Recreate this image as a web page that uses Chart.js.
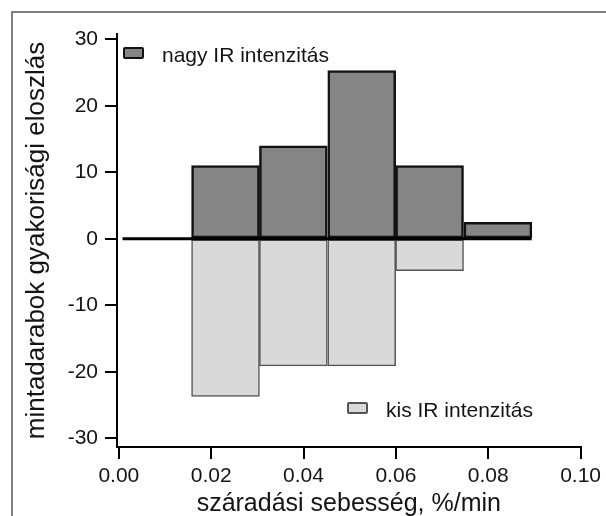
<!DOCTYPE html>
<html>
<head>
<meta charset="utf-8">
<script src="https://cdn.jsdelivr.net/npm/chart.js@4/dist/chart.umd.min.js"></script>
<style>
  html, body { margin: 0; padding: 0; background: #fff; }
  #wrap { position: relative; width: 606px; height: 516px; overflow: hidden; }
  #frame { position: absolute; left: 11px; top: 11px; width: 620px; height: 540px;
           border-left: 2px solid #808080; border-top: 2px solid #808080; }
  .leg { position: absolute; font-family: "Liberation Sans", Arial, sans-serif; font-size: 21px;
         color: #141414; white-space: nowrap; line-height: 21px; }
  .leg i { position: absolute; left: 0; top: 3px; width: 17px; height: 8px; border-radius: 2px; }
  .leg span { position: absolute; left: 39px; top: 0; }
</style>
</head>
<body>
<div id="wrap">
  <canvas id="chart" width="606" height="516"></canvas>
  <div id="frame"></div>
  <div class="leg" style="left:123px; top:44px;">
    <i style="background:#858585; border:2px solid #111;"></i><span>nagy IR intenzitás</span>
  </div>
  <div class="leg" style="left:347px; top:399px;">
    <i style="background:#d9d9d9; border:2px solid #555;"></i><span>kis IR intenzitás</span>
  </div>
</div>
<script>
document.addEventListener('DOMContentLoaded', function() {
    // bin centres (drying rate, %/min)
    const binCenters = [0.0231, 0.0378, 0.0526, 0.0673, 0.0821];
    // high IR intensity (upwards) and low IR intensity (downwards)
    const highIR = [11, 14, 25.3, 11, 2.5];
    const lowIR = [-23.7, -19.1, -19.1, -4.8, 0];
    // horizontal zero line span
    const baselineX = [0.0008, 0.0894];
    const yTicks = [-30, -20, -10, 0, 10, 20, 30];
    const xTicks = [0, 0.02, 0.04, 0.06, 0.08, 0.10];

    const font = '"Liberation Sans", Arial, sans-serif';

    const ctx = document.getElementById('chart').getContext('2d');
    new Chart(ctx, {
        type: 'bar',
        data: {
            datasets: [
                {
                    type: 'line',
                    data: baselineX.map(x => ({ x: x, y: 0 })),
                    borderColor: '#000',
                    borderWidth: 3,
                    pointRadius: 0
                },
                {
                    label: 'nagy IR intenzitás',
                    data: binCenters.map((x, i) => ({ x: x, y: highIR[i] })),
                    backgroundColor: '#858585',
                    borderColor: '#111',
                    borderWidth: 2.5,
                    borderSkipped: false,
                    grouped: false,
                    barPercentage: 1,
                    categoryPercentage: 1
                },
                {
                    label: 'kis IR intenzitás',
                    data: binCenters.map((x, i) => ({ x: x, y: lowIR[i] })),
                    backgroundColor: '#d9d9d9',
                    borderColor: '#555',
                    borderWidth: 1.5,
                    borderSkipped: false,
                    grouped: false,
                    barPercentage: 1,
                    categoryPercentage: 1
                }
            ]
        },
        options: {
            responsive: false,
            animation: false,
            layout: { padding: { left: 0, right: 24, top: 34, bottom: 0 } },
            plugins: {
                legend: { display: false },
                tooltip: { enabled: false }
            },
            scales: {
                x: {
                    type: 'linear',
                    offset: false,
                    min: -0.0004,
                    max: 0.10,
                    afterBuildTicks: s => { s.ticks = xTicks.map(v => ({ value: v })); },
                    afterFit: s => { s.height = 69; },
                    grid: { offset: false, drawOnChartArea: false, drawTicks: true, tickLength: 12, color: '#000', lineWidth: 2 },
                    border: { display: true, color: '#000', width: 2 },
                    ticks: {
                        padding: 5,
                        color: '#141414',
                        font: { family: font, size: 21 },
                        maxRotation: 0,
                        callback: v => v.toFixed(2)
                    },
                    title: {
                        display: true,
                        text: 'száradási sebesség, %/min',
                        color: '#141414',
                        font: { family: font, size: 25, lineHeight: 1 },
                        padding: { top: 0, bottom: -1 }
                    }
                },
                y: {
                    min: -31.3,
                    max: 30.8,
                    afterBuildTicks: s => { s.ticks = yTicks.map(v => ({ value: v })); },
                    afterFit: s => { s.width = 117; },
                    grid: { drawOnChartArea: false, drawTicks: true, tickLength: 12, color: '#000', lineWidth: 2 },
                    border: { display: true, color: '#000', width: 2 },
                    ticks: {
                        padding: 7,
                        color: '#141414',
                        font: { family: font, size: 21 }
                    },
                    title: {
                        display: true,
                        text: 'mintadarabok gyakorisági eloszlás',
                        color: '#141414',
                        font: { family: font, size: 26, lineHeight: 1.2 },
                        padding: { top: 21, bottom: 0 }
                    }
                }
            }
        }
    });
});
</script>
</body>
</html>
